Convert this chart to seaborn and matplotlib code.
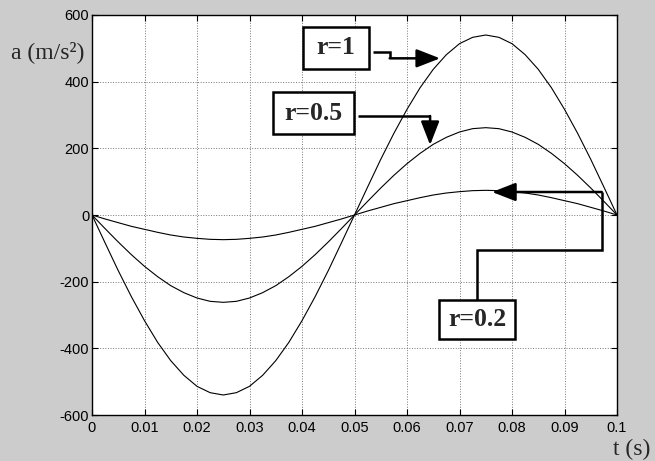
import numpy as np
import pandas as pd
import matplotlib
matplotlib.use("Agg")
import matplotlib.pyplot as plt
from matplotlib.patches import Rectangle
import seaborn as sns

# time samples (s)
t = [0.0, 0.0025, 0.005, 0.0075, 0.01, 0.0125, 0.015, 0.0175, 0.02, 0.0225,
     0.025, 0.0275, 0.03, 0.0325, 0.035, 0.0375, 0.04, 0.0425, 0.045, 0.0475,
     0.05, 0.0525, 0.055, 0.0575, 0.06, 0.0625, 0.065, 0.0675, 0.07, 0.0725,
     0.075, 0.0775, 0.08, 0.0825, 0.085, 0.0875, 0.09, 0.0925, 0.095, 0.0975, 0.1]

# acceleration (m/s^2)
a_r1 = [0, -84, -167, -245, -317, -382, -437, -481, -514, -533,
        -540, -533, -514, -481, -437, -382, -317, -245, -167, -84,
        0, 84, 167, 245, 317, 382, 437, 481, 514, 533,
        540, 533, 514, 481, 437, 382, 317, 245, 167, 84, 0]
a_r05 = [0, -41, -81, -119, -154, -185, -212, -233, -249, -259,
         -262, -259, -249, -233, -212, -185, -154, -119, -81, -41,
         0, 41, 81, 119, 154, 185, 212, 233, 249, 259,
         262, 259, 249, 233, 212, 185, 154, 119, 81, 41, 0]
a_r02 = [0, -12, -23, -34, -43, -52, -60, -66, -70, -73,
         -74, -73, -70, -66, -60, -52, -43, -34, -23, -12,
         0, 12, 23, 34, 43, 52, 60, 66, 70, 73,
         74, 73, 70, 66, 60, 52, 43, 34, 23, 12, 0]

labels = ["r=1", "r=0.5", "r=0.2"]
x_ticks = [0, 0.01, 0.02, 0.03, 0.04, 0.05, 0.06, 0.07, 0.08, 0.09, 0.1]
x_ticklabels = ["0", "0.01", "0.02", "0.03", "0.04", "0.05", "0.06", "0.07", "0.08", "0.09", "0.1"]
y_ticks = [-600, -400, -200, 0, 200, 400, 600]

df = pd.concat([
    pd.DataFrame({"t": t, "a": a_r1, "r": labels[0]}),
    pd.DataFrame({"t": t, "a": a_r05, "r": labels[1]}),
    pd.DataFrame({"t": t, "a": a_r02, "r": labels[2]}),
])

sns.set_style("ticks")
plt.rcParams["font.family"] = ["Liberation Sans", "DejaVu Sans"]
plt.rcParams["axes.unicode_minus"] = False

fig = plt.figure(figsize=(6.55, 4.61), dpi=100, facecolor="#cccccc")
ax = fig.add_axes([92 / 655, 46 / 461, 525 / 655, 400 / 461])
ax.set_facecolor("white")

sns.lineplot(data=df, x="t", y="a", units="r", estimator=None, color="black",
             linewidth=0.8, ax=ax, legend=False)

ax.set_xlim(0, 0.1)
ax.set_ylim(-600, 600)
ax.set_xticks(x_ticks)
ax.set_xticklabels(x_ticklabels)
ax.set_yticks(y_ticks)
ax.set_xlabel("")
ax.set_ylabel("")
ax.grid(True, linestyle=":", color="#777777", linewidth=0.7)
ax.tick_params(direction="in", top=True, right=True, length=4, width=0.8,
               labelsize=10.5, colors="black")
ax.tick_params(axis="x", pad=4)
ax.tick_params(axis="y", pad=2)
for s in ax.spines.values():
    s.set_linewidth(1.0)
    s.set_color("black")
    s.set_visible(True)

serif = ["Liberation Serif", "DejaVu Serif"]
fig.text(48 / 655, 1 - 52 / 461, "a (m/s²)", family=serif, fontsize=17,
         ha="center", va="center")
fig.text(632 / 655, 1 - 449 / 461, "t (s)", family=serif, fontsize=17,
         ha="center", va="center")

# label boxes (x0, x1, y0, y1) and arrow paths in data coordinates
boxes = [(0.0402, 0.0528, 438, 564), (0.0345, 0.0499, 243, 369), (0.0661, 0.0806, -372, -255)]
paths = [
    [(0.0535, 489), (0.0567, 489), (0.0567, 470), (0.0663, 470)],
    [(0.0507, 297), (0.0644, 297), (0.0644, 210)],
    [(0.0733, -255), (0.0733, -105), (0.0971, -105), (0.0971, 69), (0.0762, 69)],
]

for lab, (x0, x1, y0, y1), path in zip(labels, boxes, paths):
    ax.add_patch(Rectangle((x0, y0), x1 - x0, y1 - y0, facecolor="white",
                           edgecolor="black", linewidth=1.8, zorder=5))
    ax.text((x0 + x1) / 2, (y0 + y1) / 2, lab, family=serif, fontsize=18.5,
            fontweight="bold", ha="center", va="center", zorder=6)
    xs = [p[0] for p in path[:-1]]
    ys = [p[1] for p in path[:-1]]
    ax.plot(xs, ys, color="black", linewidth=1.8, solid_capstyle="butt",
            solid_joinstyle="miter", zorder=5)
    ax.annotate("", xy=path[-1], xytext=path[-2],
                arrowprops=dict(arrowstyle="-|>,head_length=0.9,head_width=0.35",
                                color="black", lw=1.8, shrinkA=0, shrinkB=0,
                                mutation_scale=16),
                zorder=5)

fig.savefig("out.png", dpi=100, facecolor=fig.get_facecolor())
